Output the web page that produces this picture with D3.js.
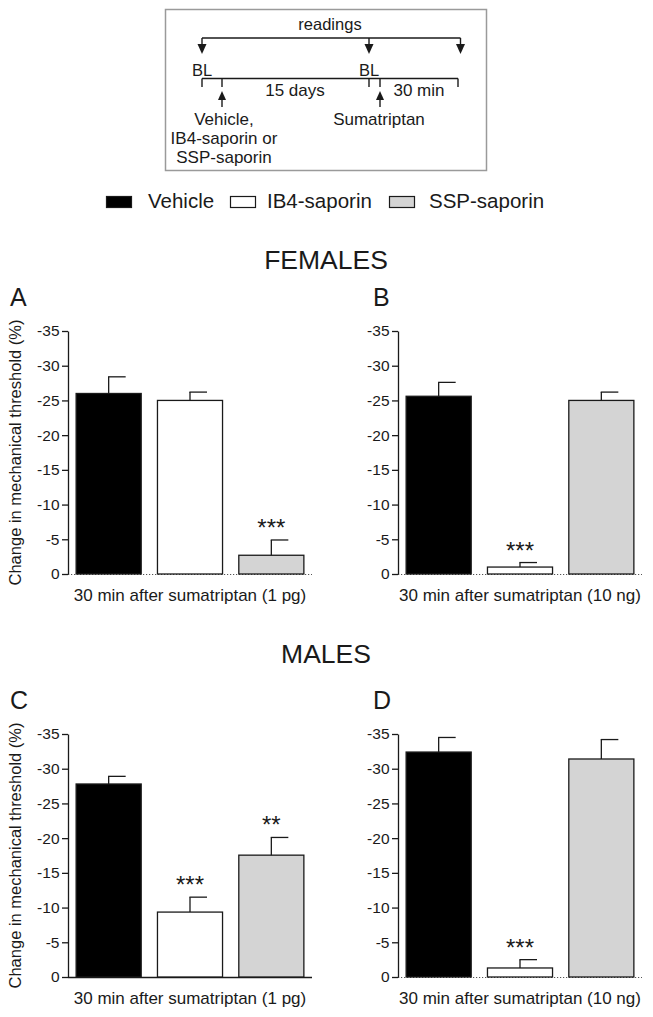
<!DOCTYPE html>
<html>
<head>
<meta charset="utf-8">
<script src="https://cdn.jsdelivr.net/npm/d3@7"></script>
<style>
  html, body { margin: 0; padding: 0; background: #fff; }
  svg { display: block; font-family: "Liberation Sans", Arial, sans-serif; }
</style>
</head>
<body>
<svg id="fig" width="653" height="1017"></svg>
<script>
// groups shared by every panel
const GROUPS = ["Vehicle", "IB4-saporin", "SSP-saporin"];
const FILLS  = ["#000000", "#ffffff", "#d4d4d4"];

// change in mechanical threshold (%), mean and SEM
const A_MEAN = [-26.0, -25.0, -2.7];
const A_SEM  = [2.4, 1.2, 2.2];
const A_SIG  = ["", "", "***"];

const B_MEAN = [-25.6, -1.0, -25.0];
const B_SEM  = [2.0, 0.65, 1.2];
const B_SIG  = ["", "***", ""];

const C_MEAN = [-27.8, -9.35, -17.55];
const C_SEM  = [1.1, 2.15, 2.55];
const C_SIG  = ["", "***", "**"];

const D_MEAN = [-32.4, -1.3, -31.4];
const D_SEM  = [2.1, 1.2, 2.8];
const D_SIG  = ["", "***", ""];

const Y_TICKS = [0, -5, -10, -15, -20, -25, -30, -35];
const X_LABEL_1PG  = "30 min after sumatriptan (1 pg)";
const X_LABEL_10NG = "30 min after sumatriptan (10 ng)";
const Y_LABEL = "Change in mechanical threshold (%)";

const svg = d3.select("#fig");
const FONT = "\"Liberation Sans\", Arial, sans-serif";
const INK = "#1a1a1a";

// ---------- protocol schematic ----------
(function schematic() {
  const g = svg.append("g");
  g.append("rect")
    .attr("x", 165.5).attr("y", 9.5).attr("width", 321).attr("height", 161)
    .attr("fill", "none").attr("stroke", "#9a9a9a").attr("stroke-width", 1.5);

  const readX = [202, 369, 460.5];
  const topY = 38, tlY = 78.5;

  g.append("text").attr("x", 330).attr("y", 30).attr("text-anchor", "middle")
    .attr("font-size", 16.5).attr("fill", INK).text("readings");
  g.append("line").attr("x1", readX[0]).attr("x2", readX[2])
    .attr("y1", topY).attr("y2", topY).attr("stroke", INK).attr("stroke-width", 1.4);
  readX.forEach(x => {
    g.append("line").attr("x1", x).attr("x2", x).attr("y1", topY).attr("y2", 46)
      .attr("stroke", INK).attr("stroke-width", 1.4);
    g.append("path").attr("d", `M${x-4.5},44 L${x+4.5},44 L${x},54 Z`).attr("fill", INK);
  });
  [[202, "BL"], [369, "BL"]].forEach(([x, s]) =>
    g.append("text").attr("x", x).attr("y", 76).attr("text-anchor", "middle")
      .attr("font-size", 16.5).attr("fill", INK).text(s));

  g.append("line").attr("x1", 202).attr("x2", 458).attr("y1", tlY).attr("y2", tlY)
    .attr("stroke", INK).attr("stroke-width", 1.4);
  [202, 222, 369, 380, 458].forEach(x =>
    g.append("line").attr("x1", x).attr("x2", x).attr("y1", tlY).attr("y2", 87)
      .attr("stroke", INK).attr("stroke-width", 1.4));
  [222, 380].forEach(x => {
    g.append("line").attr("x1", x).attr("x2", x).attr("y1", 98).attr("y2", 107)
      .attr("stroke", INK).attr("stroke-width", 1.4);
    g.append("path").attr("d", `M${x-4},100 L${x+4},100 L${x},91 Z`).attr("fill", INK);
  });
  g.append("text").attr("x", 295).attr("y", 96).attr("text-anchor", "middle")
    .attr("font-size", 17).attr("fill", INK).text("15 days");
  g.append("text").attr("x", 419).attr("y", 96).attr("text-anchor", "middle")
    .attr("font-size", 17).attr("fill", INK).text("30 min");
  [["Vehicle,", 125], ["IB4-saporin or", 144], ["SSP-saporin", 163]].forEach(([s, y]) =>
    g.append("text").attr("x", 224).attr("y", y).attr("text-anchor", "middle")
      .attr("font-size", 17).attr("fill", INK).text(s));
  g.append("text").attr("x", 379).attr("y", 125).attr("text-anchor", "middle")
    .attr("font-size", 17).attr("fill", INK).text("Sumatriptan");
})();

// ---------- legend ----------
(function legend() {
  const items = [
    { sw: 106, tx: 148 },
    { sw: 230, tx: 267 },
    { sw: 389, tx: 429 }
  ];
  GROUPS.forEach((name, i) => {
    svg.append("rect").attr("x", items[i].sw + 0.5).attr("y", 196.5)
      .attr("width", 25).attr("height", 11)
      .attr("fill", FILLS[i]).attr("stroke", INK).attr("stroke-width", 1.2);
    svg.append("text").attr("x", items[i].tx).attr("y", 208)
      .attr("font-size", 20.5).attr("fill", INK).text(name);
  });
})();

// ---------- section titles ----------
svg.append("text").attr("x", 326).attr("y", 269).attr("text-anchor", "middle")
  .attr("font-size", 26.5).attr("fill", INK).text("FEMALES");
svg.append("text").attr("x", 326).attr("y", 663).attr("text-anchor", "middle")
  .attr("font-size", 26.5).attr("fill", INK).text("MALES");

// ---------- bar panels ----------
const PANELS = [
  { tag: "A", mean: A_MEAN, sem: A_SEM, sig: A_SIG, xl: X_LABEL_1PG,  x0: 68,  y0: 331, ylab: true,  dotted: true },
  { tag: "B", mean: B_MEAN, sem: B_SEM, sig: B_SIG, xl: X_LABEL_10NG, x0: 398, y0: 331, ylab: false, dotted: true },
  { tag: "C", mean: C_MEAN, sem: C_SEM, sig: C_SIG, xl: X_LABEL_1PG,  x0: 68,  y0: 734, ylab: true,  dotted: false },
  { tag: "D", mean: D_MEAN, sem: D_SEM, sig: D_SIG, xl: X_LABEL_10NG, x0: 398, y0: 734, ylab: false, dotted: true }
];
const PW = 244, PH = 243;

PANELS.forEach(p => {
  const g = svg.append("g").attr("transform", `translate(${p.x0},${p.y0})`);
  const x = d3.scaleBand().domain(GROUPS).range([0, PW]).paddingInner(0.2).paddingOuter(0.1);
  const y = d3.scaleLinear().domain([0, -35]).range([PH, 0]);

  // panel letter
  svg.append("text").attr("x", p.x0 - (p.tag === "A" || p.tag === "C" ? 58 : 25))
    .attr("y", p.y0 - 25).attr("font-size", 25).attr("fill", INK).text(p.tag);

  // baseline at zero
  g.append("line").attr("x1", 0).attr("x2", PW).attr("y1", y(0) + 0.5).attr("y2", y(0) + 0.5)
    .attr("stroke", p.dotted ? "#555" : INK).attr("stroke-width", p.dotted ? 1.2 : 1.4)
    .attr("stroke-dasharray", p.dotted ? "1.2,1.8" : null);

  // bars
  g.selectAll("rect.bar").data(p.mean).join("rect").attr("class", "bar")
    .attr("x", (d, i) => x(GROUPS[i]))
    .attr("y", d => y(d))
    .attr("width", x.bandwidth())
    .attr("height", d => y(0) - y(d))
    .attr("fill", (d, i) => FILLS[i])
    .attr("stroke", INK).attr("stroke-width", 1.3);

  // upper error bars with one-sided cap
  p.mean.forEach((m, i) => {
    const cx = x(GROUPS[i]) + x.bandwidth() / 2;
    const top = y(m - p.sem[i]);
    g.append("line").attr("x1", cx).attr("x2", cx).attr("y1", y(m)).attr("y2", top)
      .attr("stroke", INK).attr("stroke-width", 1.3);
    g.append("line").attr("x1", cx - 0.6).attr("x2", cx + 17).attr("y1", top).attr("y2", top)
      .attr("stroke", INK).attr("stroke-width", 1.3);
    if (p.sig[i]) {
      g.append("text").attr("x", cx).attr("y", top - 4).attr("text-anchor", "middle")
        .attr("font-size", 24).attr("fill", INK).text(p.sig[i]);
    }
  });

  // y axis
  const ax = g.append("g").call(d3.axisLeft(y).tickValues(Y_TICKS)
    .tickSize(6).tickSizeOuter(0).tickPadding(2.5).tickFormat(d => String(d)));
  ax.select(".domain").attr("stroke", INK).attr("stroke-width", 1.3);
  ax.selectAll(".tick line").attr("stroke", INK).attr("stroke-width", 1.3);
  ax.selectAll(".tick text").attr("font-size", 15.5).attr("font-family", FONT).attr("fill", INK);

  // x label
  g.append("text").attr("x", PW / 2).attr("y", PH + 27).attr("text-anchor", "middle")
    .attr("font-size", 17).attr("fill", INK).text(p.xl);

  if (p.ylab) {
    g.append("text").attr("transform", `translate(-47,${PH / 2}) rotate(-90)`)
      .attr("text-anchor", "middle").attr("font-size", 16.5).attr("fill", INK).text(Y_LABEL);
  }
});
</script>
</body>
</html>
